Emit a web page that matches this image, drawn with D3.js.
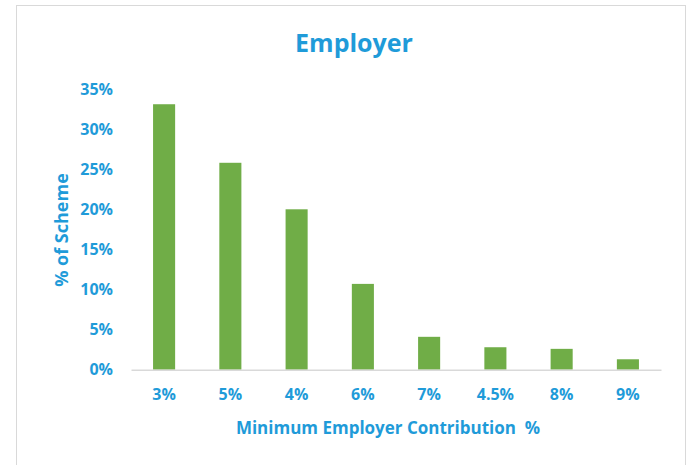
<!DOCTYPE html>
<html>
<head>
<meta charset="utf-8">
<script src="https://cdn.jsdelivr.net/npm/d3@7"></script>
<style>
  body { margin: 0; background: #fff; }
  text { font-family: "Open Sans", sans-serif; font-weight: bold; fill: #1f9bd9; }
</style>
</head>
<body>
<div id="chart"></div>
<script>
// Chart data
const categories = ["3%", "5%", "4%", "6%", "7%", "4.5%", "8%", "9%"];
const shares = [33.1, 25.8, 20.0, 10.7, 4.1, 2.8, 2.6, 1.3];
const yTicks = [0, 5, 10, 15, 20, 25, 30, 35];

const width = 690;
const height = 465;
const margin = {left: 131, right: 29, top: 89, bottom: 95};

const svg = d3.select("#chart")
  .append("svg")
  .attr("width", width)
  .attr("height", height);

// chart border
svg.append("rect")
  .attr("x", 16.5).attr("y", 5.5)
  .attr("width", 669).attr("height", 470)
  .attr("fill", "none")
  .attr("stroke", "#d9d9d9");

const x = d3.scaleBand()
  .domain(categories)
  .range([margin.left, width - margin.right])
  .paddingInner(0.667)
  .paddingOuter(0.333);

const y = d3.scaleLinear()
  .domain([0, 35])
  .range([height - margin.bottom - 0.3, margin.top]);

// bars
svg.selectAll(".bar")
  .data(shares)
  .enter()
  .append("rect")
    .attr("class", "bar")
    .attr("x", (d, i) => x(categories[i]))
    .attr("y", d => y(d))
    .attr("width", x.bandwidth())
    .attr("height", d => y(0) - y(d))
    .attr("fill", "#70ad47");

// y axis (labels only)
const yAxis = svg.append("g")
  .attr("transform", `translate(${margin.left}, 0)`)
  .call(d3.axisLeft(y).tickValues(yTicks).tickFormat(d => d + "%").tickSize(0).tickPadding(18));
yAxis.select(".domain").remove();
yAxis.selectAll("text").attr("font-size", 16).attr("font-family", null);

// x axis
const xAxis = svg.append("g")
  .attr("transform", `translate(0, ${y(0)})`)
  .call(d3.axisBottom(x).tickSize(0).tickPadding(19));
xAxis.select(".domain").attr("stroke", "#d9d9d9").attr("stroke-width", 1.5);
xAxis.selectAll("text").attr("font-size", 16).attr("font-family", null);

// titles
svg.append("text")
  .attr("x", 354).attr("y", 52)
  .attr("text-anchor", "middle")
  .attr("font-size", 25)
  .text("Employer");

svg.append("text")
  .attr("x", 388).attr("y", 434)
  .attr("text-anchor", "middle")
  .attr("font-size", 17)
  .text("Minimum Employer Contribution\u00a0 %");

svg.append("text")
  .attr("transform", "translate(68, 230) rotate(-90)")
  .attr("text-anchor", "middle")
  .attr("font-size", 18)
  .text("% of Scheme");
</script>
</body>
</html>
